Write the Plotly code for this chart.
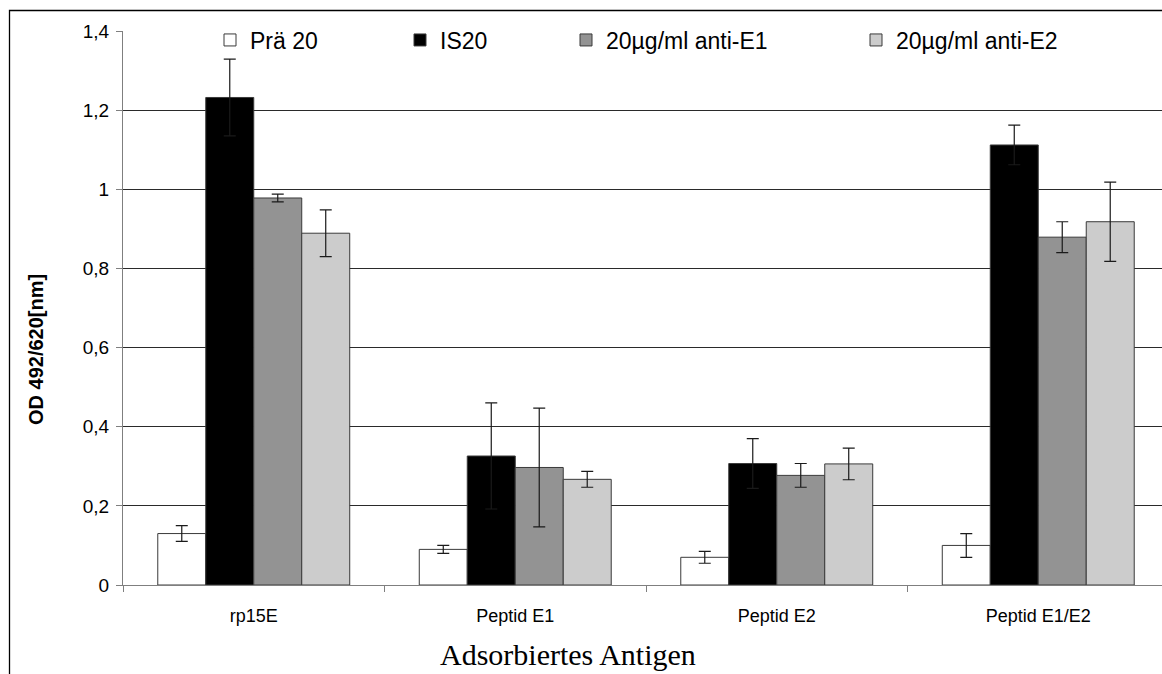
import plotly.graph_objects as go

categories = ["rp15E", "Peptid E1", "Peptid E2", "Peptid E1/E2"]
series_names = ["Prä 20", "IS20", "20µg/ml anti-E1", "20µg/ml anti-E2"]

pra20 = [0.13, 0.09, 0.07, 0.10]
pra20_err = [0.02, 0.01, 0.015, 0.03]
is20 = [1.232, 0.326, 0.307, 1.112]
is20_err = [0.097, 0.134, 0.063, 0.05]
anti_e1 = [0.978, 0.297, 0.277, 0.879]
anti_e1_err = [0.01, 0.15, 0.03, 0.039]
anti_e2 = [0.889, 0.267, 0.306, 0.918]
anti_e2_err = [0.059, 0.02, 0.04, 0.10]

y_ticks = [0, 0.2, 0.4, 0.6, 0.8, 1.0, 1.2, 1.4]

colors = ["#ffffff", "#000000", "#939393", "#cccccc"]
values = [pra20, is20, anti_e1, anti_e2]
errors = [pra20_err, is20_err, anti_e1_err, anti_e2_err]
legend_ids = ["legend", "legend2", "legend3", "legend4"]

W, H = 1162, 674
L, R, T, B = 123, 0, 31, 89
pw, ph = W - L - R, H - T - B
cat_px = 261.5


def px_x(p):
    return (p - L) / pw


def px_y(p):
    return 1 - (p - T) / ph


fig = go.Figure()
for name, vals, errs, col, lg in zip(series_names, values, errors, colors, legend_ids):
    fig.add_trace(go.Bar(
        x=categories, y=vals, name=name, legend=lg,
        marker=dict(color=col, line=dict(color="#3a3a3a", width=1)),
        error_y=dict(type="data", array=errs, visible=True,
                     color="#1a1a1a", thickness=1.2, width=6),
    ))

legend_text_px = [250, 440, 606, 896]
font_sans = "Liberation Sans, Arial, sans-serif"
legend_layout = {}
for lg, tx in zip(legend_ids, legend_text_px):
    legend_layout[lg] = dict(
        x=px_x(tx - 40), xanchor="left", y=px_y(40), yanchor="middle",
        orientation="h", bgcolor="rgba(0,0,0,0)", borderwidth=0,
        font=dict(family=font_sans, size=23, color="#000000"),
        itemclick=False, itemdoubleclick=False,
    )

fig.update_layout(
    width=W, height=H,
    margin=dict(l=L, r=R, t=T, b=B, pad=0),
    paper_bgcolor="#ffffff", plot_bgcolor="#ffffff",
    barmode="group", bargap=0.266, bargroupgap=0,
    separators=",.",
    showlegend=True,
    **legend_layout,
)

fig.update_xaxes(
    type="category",
    range=[-0.5, -0.5 + pw / cat_px],
    showline=True, linecolor="#7f7f7f", linewidth=1,
    ticks="outside", tickson="boundaries", ticklen=6, tickcolor="#7f7f7f",
    tickfont=dict(family=font_sans, size=18, color="#000000"),
    ticklabelstandoff=14,
    showgrid=False, zeroline=False,
)
fig.update_yaxes(
    range=[0, 1.4], tickvals=y_ticks,
    showline=True, linecolor="#7f7f7f", linewidth=1,
    ticks="outside", ticklen=6, tickcolor="#7f7f7f",
    tickfont=dict(family=font_sans, size=19, color="#000000"),
    ticklabelstandoff=3,
    showgrid=True, gridcolor="#2a2a2a", gridwidth=1,
    zeroline=False,
)

# white area behind the legend (hides top gridline there)
fig.add_shape(type="rect", xref="paper", yref="paper",
              x0=px_x(178), x1=px_x(1106), y0=px_y(52), y1=px_y(22),
              fillcolor="#ffffff", line=dict(width=0), layer="above")
# chart area frame
fig.add_shape(type="rect", xref="paper", yref="paper",
              x0=px_x(9.5), x1=px_x(1300), y0=px_y(760), y1=px_y(10.5),
              fillcolor="rgba(0,0,0,0)", line=dict(color="#000000", width=1.3),
              layer="above")

fig.add_annotation(
    text="<b>OD 492/620[nm]</b>", textangle=-90,
    xref="paper", yref="paper", x=px_x(36), y=px_y(350),
    xanchor="center", yanchor="middle", showarrow=False,
    font=dict(family=font_sans, size=20, color="#000000"),
)
fig.add_annotation(
    text="Adsorbiertes Antigen",
    xref="paper", yref="paper", x=px_x(568), y=px_y(654),
    xanchor="center", yanchor="middle", showarrow=False,
    font=dict(family="Liberation Serif, Times New Roman, serif", size=30, color="#000000"),
)

fig.write_html("out.html")
